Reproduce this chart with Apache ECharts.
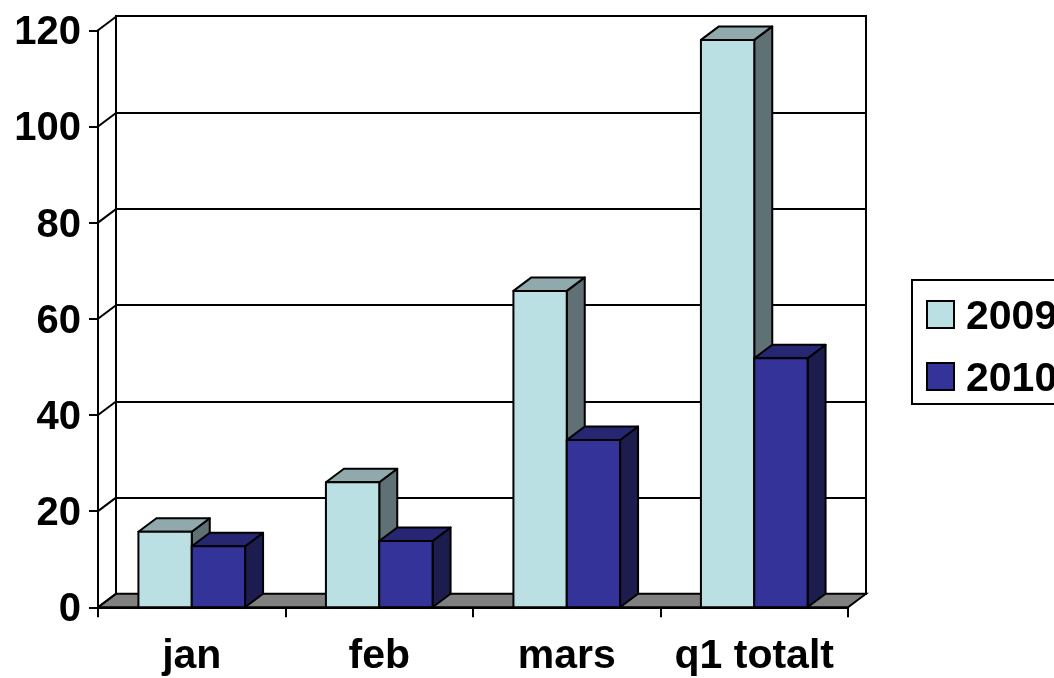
<!DOCTYPE html>
<html><head><meta charset="utf-8">
<style>html,body{margin:0;padding:0;background:#fff}#c{width:1054px;height:678px}</style>
<script src="https://cdn.jsdelivr.net/npm/echarts@6/dist/echarts.min.js"></script>
</head><body><div id="c"></div>
<script>
const categories = ['jan','feb','mars','q1 totalt'];
const values2009 = [15.7,26,65.8,118];
const values2010 = [12.7,13.8,34.8,51.8];
const yTicks = [0,20,40,60,80,100,120];
const DX = 18, DY = 13.5, EDGE = '#000', LW = 2, FONT = 'Liberation Sans', FS = 40;
const chart = echarts.init(document.getElementById('c'), null, {renderer:'canvas'});

function barItem(front, top, side, sign){
  return function(params, api){
    const p = api.coord([api.value(0), api.value(1)]);
    const b = api.coord([api.value(0), 0]);
    const w = api.size([1,0])[0] * 0.2844;
    const x0 = sign < 0 ? p[0]-w : p[0], x1 = x0+w, yt = p[1], yb = b[1];
    const st = f => ({fill:f, stroke:EDGE, lineWidth:LW, lineJoin:'round'});
    return {type:'group', children:[
      {type:'polygon', shape:{points:[[x1,yb],[x1+DX,yb-DY],[x1+DX,yt-DY],[x1,yt]]}, style:st(side)},
      {type:'polygon', shape:{points:[[x0,yt],[x0+DX,yt-DY],[x1+DX,yt-DY],[x1,yt]]}, style:st(top)},
      {type:'rect', shape:{x:x0,y:yt,width:w,height:yb-yt}, style:st(front)}
    ]};
  };
}
function floorItem(params, api){
  const a = api.coord([0,0]), w = api.size([1,0])[0]*categories.length;
  const l = a[0]-w/categories.length/2, r = l+w, y = a[1];
  return {type:'polygon', shape:{points:[[l,y],[l+DX,y-DY],[r+DX,y-DY],[r,y]]},
    style:{fill:'#808080', stroke:EDGE, lineWidth:LW}};
}
function wallItem(params, api){
  const a = api.coord([0,api.value(0)]), hw = api.size([1,0])[0]/2, l = a[0]-hw;
  return {type:'line', shape:{x1:l,y1:a[1],x2:l+DX,y2:a[1]-DY}, style:{stroke:EDGE, lineWidth:LW}};
}
chart.setOption({
  animation:false,
  backgroundColor:'#fff',
  textStyle:{fontFamily:FONT},
  legend:{
    orient:'vertical', left:912, top:280, padding:[11,14,4,14], itemGap:15,
    itemWidth:27, itemHeight:27, icon:'rect',
    borderColor:'#000', borderWidth:LW, backgroundColor:'#fff',
    selectedMode:false,
    formatter:'{n|{name}}',
    textStyle:{rich:{n:{fontFamily:FONT, fontWeight:'bold', fontSize:41, lineHeight:40, color:'#000', padding:[6,0,0,7]}}},
    data:['2009','2010']
  },
  grid:[
    {left:116, top:16, width:750, height:578, show:true, borderColor:EDGE, borderWidth:LW, backgroundColor:'#fff', z:0},
    {left:98, top:30.3, width:750, height:577, z:2}
  ],
  xAxis:[
    {gridIndex:0, type:'category', data:categories, axisLine:{show:false}, axisTick:{show:false}, axisLabel:{show:false}},
    {gridIndex:1, type:'category', data:categories,
      axisLine:{show:true, lineStyle:{color:EDGE,width:LW}},
      axisTick:{show:true, interval:0, length:10, lineStyle:{color:EDGE,width:LW}},
      axisLabel:{interval:0, hideOverlap:false, fontFamily:FONT, fontWeight:'bold', fontSize:41, color:'#000', margin:29}}
  ],
  yAxis:[
    {gridIndex:0, type:'value', min:0, max:120, interval:20,
      axisLine:{show:false}, axisTick:{show:false}, axisLabel:{show:false},
      splitLine:{show:true, lineStyle:{color:EDGE,width:LW}}},
    {gridIndex:1, type:'value', min:0, max:120, interval:20, splitLine:{show:false},
      axisLine:{show:true, lineStyle:{color:EDGE,width:LW}},
      axisTick:{show:true, length:9, lineStyle:{color:EDGE,width:LW}},
      axisLabel:{margin:17, formatter:'{n|{value}}',
        rich:{n:{fontFamily:FONT, fontWeight:'bold', fontSize:FS, color:'#000', padding:[6,0,0,0]}}}}
  ],
  series:[
    {type:'custom', coordinateSystem:'cartesian2d', xAxisIndex:1, yAxisIndex:1, silent:true, z:3,
      renderItem:floorItem, data:[[0,0]], clip:false, encode:{x:0,y:1}, name:'floor'},
    {type:'custom', coordinateSystem:'cartesian2d', xAxisIndex:1, yAxisIndex:1, silent:true, z:3,
      renderItem:wallItem, data:yTicks.map(v=>[v]), clip:false, name:'wall', encode:{y:0}},
    {type:'custom', name:'2009', coordinateSystem:'cartesian2d', xAxisIndex:1, yAxisIndex:1, z:4, clip:false,
      itemStyle:{color:'#BBE0E3', borderColor:EDGE, borderWidth:LW},
      renderItem:barItem('#BBE0E3','#8FA9AC','#5F7174',-1),
      encode:{x:0,y:1}, data:values2009.map((v,i)=>[i,v])},
    {type:'custom', name:'2010', coordinateSystem:'cartesian2d', xAxisIndex:1, yAxisIndex:1, z:5, clip:false,
      itemStyle:{color:'#333399', borderColor:EDGE, borderWidth:LW},
      renderItem:barItem('#333399','#262673','#1C1C4F',1),
      encode:{x:0,y:1}, data:values2010.map((v,i)=>[i,v])}
  ]
});
</script></body></html>
